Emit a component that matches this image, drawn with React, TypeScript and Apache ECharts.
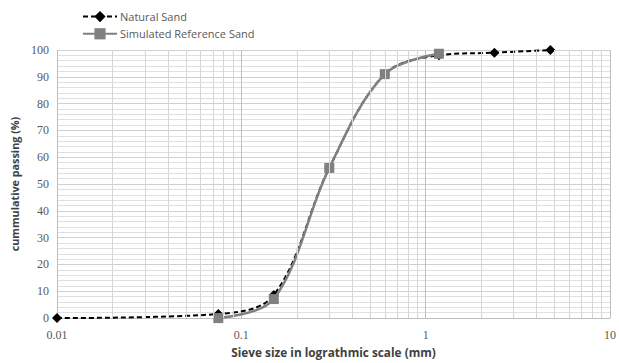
import React, { useEffect, useRef } from "react";
import * as echarts from "echarts";

const naturalSize = [0.01, 0.075, 0.15, 0.3, 0.6, 1.18, 2.36, 4.75];
const naturalPassing = [0, 1.5, 8.6, 56, 91, 98, 99, 100];
const simulatedSize = [0.075, 0.15, 0.3, 0.6, 1.18];
const simulatedPassing = [0, 7.1, 56, 91, 98.6];
const decades = [0.01, 0.1, 1];
const minorMultipliers = [2, 3, 4, 5, 6, 7, 8, 9];

export default function App() {
  const ref = useRef<HTMLDivElement>(null);
  useEffect(() => {
    if (!ref.current) return;
    const chart = echarts.init(ref.current, null, { renderer: "svg" });
    const minorLines: { xAxis: number }[] = [];
    decades.forEach((d) => minorMultipliers.forEach((m) => minorLines.push({ xAxis: +(d * m).toPrecision(3) })));
    const labelFont = "'Liberation Serif', serif";
    const sansFont = "'Open Sans', sans-serif";
    chart.setOption({
      animation: false,
      backgroundColor: "#ffffff",
      grid: { left: 57, right: 4, top: 50, bottom: 42 },
      legend: {
        orient: "vertical",
        left: 77,
        top: 6,
        itemGap: 6,
        itemWidth: 34,
        itemHeight: 14,
        data: ["Natural Sand", "Simulated Reference Sand"],
        textStyle: { fontFamily: sansFont, fontSize: 11, color: "#595959", padding: [0, 0, 0, -2] },
      },
      xAxis: {
        type: "log",
        logBase: 10,
        min: 0.01,
        max: 10,
        name: "Sieve size in lograthmic scale (mm)",
        nameLocation: "middle",
        nameGap: 23,
        nameTextStyle: { fontFamily: sansFont, fontSize: 11.8, fontWeight: "bold", color: "#404040" },
        axisLine: { show: true, lineStyle: { color: "#bfbfbf" } },
        axisTick: { show: false },
        axisLabel: { fontFamily: labelFont, fontSize: 12, color: "#595959", margin: 11 },
        splitLine: { show: true, lineStyle: { color: "#bfbfbf", width: 1 } },
      },
      yAxis: {
        type: "value",
        min: 0,
        max: 100,
        interval: 10,
        name: "cummulative passing (%)",
        nameLocation: "middle",
        nameGap: 36,
        nameTextStyle: { fontFamily: sansFont, fontSize: 10.8, fontWeight: "bold", color: "#404040" },
        axisLine: { show: false },
        axisTick: { show: false },
        axisLabel: { fontFamily: labelFont, fontSize: 12, color: "#595959", margin: 8 },
        splitLine: { show: true, lineStyle: { color: "#d0d0d0", width: 1 } },
        minorTick: { show: false, splitNumber: 5 },
        minorSplitLine: { show: true, lineStyle: { color: "#e0e0e0", width: 1 } },
      },
      series: [
        {
          name: "gridlines",
          type: "line",
          data: [],
          z: 0,
          silent: true,
          markLine: {
            silent: true,
            symbol: "none",
            label: { show: false },
            lineStyle: { color: "#d6d6d6", width: 1, type: "solid" },
            data: minorLines,
          },
        },
        {
          name: "Natural Sand",
          type: "line",
          data: naturalSize.map((x, i) => [x, naturalPassing[i]]),
          smooth: 0.35,
          symbol: "diamond",
          symbolSize: 10,
          itemStyle: { color: "#000000" },
          lineStyle: { color: "#000000", width: 2, type: [5, 3] },
          z: 3,
        },
        {
          name: "Simulated Reference Sand",
          type: "line",
          data: simulatedSize.map((x, i) => [x, simulatedPassing[i]]),
          smooth: 0.35,
          symbol: "rect",
          symbolSize: 10,
          itemStyle: { color: "#808080" },
          lineStyle: { color: "#808080", width: 2.5 },
          z: 4,
        },
      ],
    });
    return () => chart.dispose();
  }, []);
  return <div ref={ref} style={{ position: "absolute", left: 0, top: 0, width: 619, height: 363 }} />;
}
